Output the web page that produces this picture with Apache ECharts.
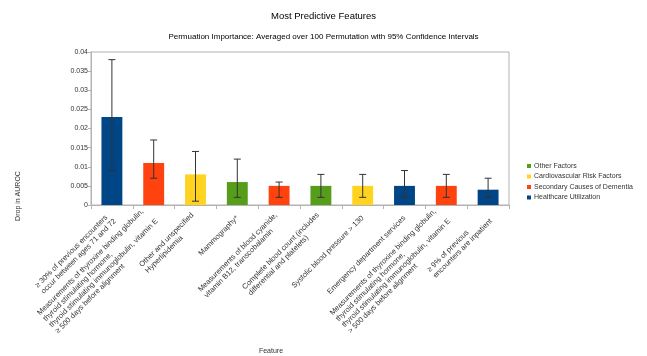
<!DOCTYPE html>
<html>
<head>
<meta charset="utf-8">
<script src="https://cdn.jsdelivr.net/npm/echarts@6/dist/echarts.min.js"></script>
<style>
  html, body { margin: 0; padding: 0; background: #fff; }
  #chart { width: 647px; height: 356px; }
</style>
</head>
<body>
<div id="chart"></div>
<script>
// Features, ordered by mean drop in AUROC
const categories = [
  '≥ 30% of previous encounters\noccur between ages 71 and 72',
  'Measurements of thyroxine binding globulin,\nthyroid stimulating hormone,\nthyroid stimulating immunoglobulin, vitamin E\n≥ 500 days before alignment',
  'Other and unspecified\nHyperlipidemia',
  'Mammography*',
  'Measurements of blood cyanide,\nvitamin B12, transcobalamin',
  'Complete blood count (includes\ndifferential and platelets)',
  'Systolic blood pressure > 130',
  'Emergency department services',
  'Measurements of thyroxine binding globulin,\nthyroid stimulating hormone,\nthyroid stimulating immunoglobulin, vitamin E\n> 500 days before alignment',
  '≥ 9% of previous\nencounters are inpatient'
];

// Mean drop in AUROC and 95% confidence bounds
const meanDrop = [0.023, 0.011, 0.008, 0.006, 0.005, 0.005, 0.005, 0.005, 0.005, 0.004];
const ciLow    = [0.009, 0.007, 0.001, 0.002, 0.002, 0.002, 0.002, 0.002, 0.002, 0.002];
const ciHigh   = [0.038, 0.017, 0.014, 0.012, 0.006, 0.008, 0.008, 0.009, 0.008, 0.007];

// Group of each feature
const featureGroup = [
  'Healthcare Utilization',
  'Secondary Causes of Dementia',
  'Cardiovascular Risk Factors',
  'Other Factors',
  'Secondary Causes of Dementia',
  'Other Factors',
  'Cardiovascular Risk Factors',
  'Healthcare Utilization',
  'Secondary Causes of Dementia',
  'Healthcare Utilization'
];

const groups = ['Other Factors', 'Cardiovascular Risk Factors', 'Secondary Causes of Dementia', 'Healthcare Utilization'];
const groupColors = ['#579d1c', '#ffd320', '#ff420e', '#004586'];

const yTicks = { min: 0, max: 0.04, interval: 0.005 };

const FONT = '"Liberation Sans", Arial, sans-serif';

const barSeries = groups.map((g, gi) => ({
  name: g,
  type: 'bar',
  barWidth: '50%',
  barGap: '-100%',
  itemStyle: { color: groupColors[gi] },
  data: meanDrop.map((v, i) => featureGroup[i] === g ? v : '-'),
  z: 2
}));

const errorSeries = {
  type: 'custom',
  name: 'ci',
  z: 5,
  silent: true,
  data: ciLow.map((lo, i) => [i, lo, ciHigh[i]]),
  encode: { x: 0, y: [1, 2] },
  renderItem: function (params, api) {
    const x = api.value(0);
    const lo = api.coord([x, api.value(1)]);
    const hi = api.coord([x, api.value(2)]);
    const cap = 3.5;
    const st = { stroke: '#333333', lineWidth: 1 };
    return {
      type: 'group',
      children: [
        { type: 'line', shape: { x1: lo[0], y1: lo[1], x2: hi[0], y2: hi[1] }, style: st },
        { type: 'line', shape: { x1: hi[0] - cap, y1: hi[1], x2: hi[0] + cap, y2: hi[1] }, style: st },
        { type: 'line', shape: { x1: lo[0] - cap, y1: lo[1], x2: lo[0] + cap, y2: lo[1] }, style: st }
      ]
    };
  }
};

const chart = echarts.init(document.getElementById('chart'), null, { renderer: 'canvas' });

chart.setOption({
  animation: false,
  backgroundColor: '#ffffff',
  textStyle: { fontFamily: FONT },
  title: [
    {
      text: 'Most Predictive Features',
      left: 'center', top: 6,
      textStyle: { fontFamily: FONT, fontSize: 9.5, fontWeight: 'normal', color: '#000' }
    },
    {
      text: 'Permuation Importance: Averaged over 100 Permutation with 95% Confidence Intervals',
      left: 'center', top: 28,
      textStyle: { fontFamily: FONT, fontSize: 8, fontWeight: 'normal', color: '#000' }
    }
  ],
  legend: {
    data: groups,
    orient: 'vertical',
    left: 522,
    top: 157,
    itemWidth: 4,
    itemHeight: 4,
    itemGap: 2.5,
    icon: 'rect',
    selectedMode: false,
    textStyle: { fontFamily: FONT, fontSize: 7, color: '#333', lineHeight: 8, padding: [0, 0, 0, -2] }
  },
  grid: {
    left: 91, right: 138, top: 52, bottom: 151,
    show: true, borderColor: '#b3b3b3', borderWidth: 1, backgroundColor: 'transparent'
  },
  xAxis: {
    type: 'category',
    data: categories,
    boundaryGap: true,
    axisLine: { lineStyle: { color: '#b3b3b3' } },
    axisTick: { show: true, length: 4, lineStyle: { color: '#b3b3b3' }, alignWithLabel: false },
    splitLine: { show: false },
    axisLabel: {
      interval: 0,
      rotate: 45,
      margin: 12,
      hideOverlap: false,
      color: '#333',
      formatter: function (val) {
        return val.split('\n').map(s => '{l|' + s + '}').join('\n');
      },
      rich: {
        l: { align: 'left', fontFamily: FONT, fontSize: 7.5, lineHeight: 8.5, color: '#333' }
      }
    }
  },
  yAxis: {
    type: 'value',
    min: yTicks.min, max: yTicks.max, interval: yTicks.interval,
    axisLine: { show: true, lineStyle: { color: '#b3b3b3' } },
    axisTick: { show: true, length: 3, lineStyle: { color: '#b3b3b3' } },
    splitLine: { show: false },
    axisLabel: { fontFamily: FONT, fontSize: 7, color: '#333', margin: 3 }
  },
  graphic: [
    {
      type: 'text', x: 18, y: 196, rotation: Math.PI / 2,
      style: { text: 'Drop in AUROC', font: '7px ' + FONT, fill: '#333', align: 'center', verticalAlign: 'middle' }
    },
    {
      type: 'text', x: 271, y: 351,
      style: { text: 'Feature', font: '7px ' + FONT, fill: '#333', align: 'center', verticalAlign: 'middle' }
    }
  ],
  series: barSeries.concat([errorSeries])
});
</script>
</body>
</html>
